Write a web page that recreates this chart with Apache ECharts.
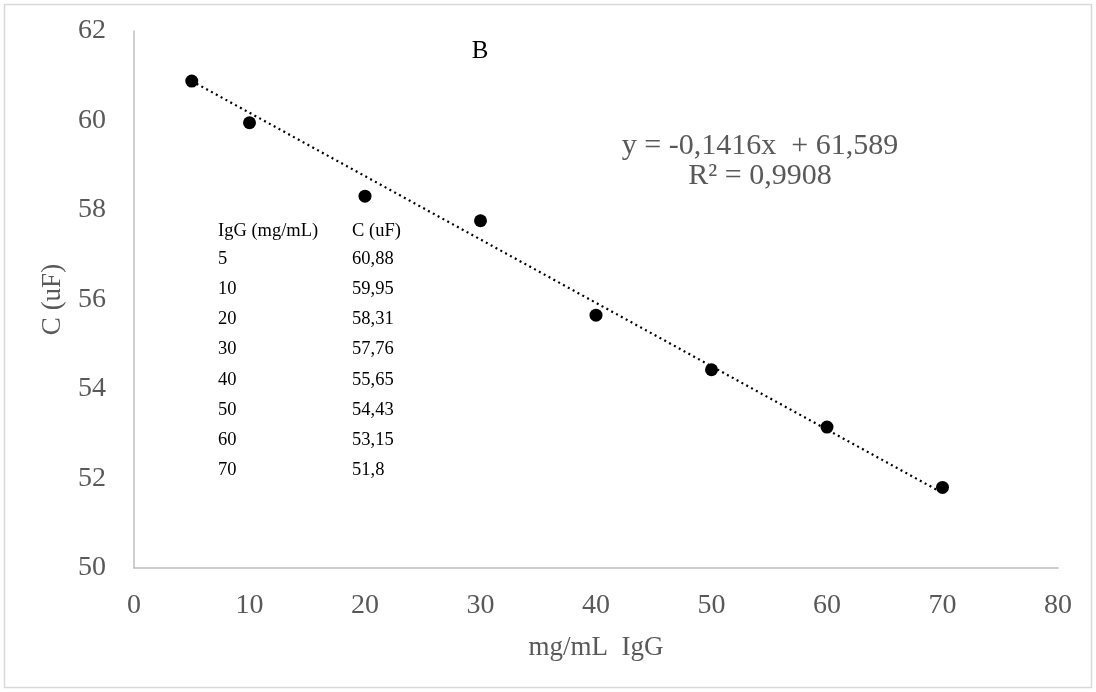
<!DOCTYPE html>
<html>
<head>
<meta charset="utf-8">
<script src="https://cdn.jsdelivr.net/npm/echarts@6/dist/echarts.min.js"></script>
<style>
  html, body { margin: 0; padding: 0; background: #fff; }
  #chart { width: 1096px; height: 692px; }
</style>
</head>
<body>
<div id="chart"></div>
<script>
// concentration (mg/mL) and capacitance (uF)
const igg = [5, 10, 20, 30, 40, 50, 60, 70]
const cap = [60.88, 59.95, 58.31, 57.76, 55.65, 54.43, 53.15, 51.8]
// trend line as printed on the chart
const slope = -0.1416
const intercept = 61.589
const r2 = 0.9908

const serif = '"Liberation Serif", "Times New Roman", serif'
const gray = '#595959'
const comma = v => String(v).replace('.', ',')

const trend = [igg[0], igg[igg.length - 1]].map(x => [x, slope * x + intercept])

// little table inside the plot
const cell = (x, y, text) => ({
  type: 'text', x: x, y: y,
  style: { text: text, font: '18.5px ' + serif, fill: '#000', textVerticalAlign: 'middle' }
})
const tableText = [cell(218, 231, 'IgG (mg/mL)'), cell(352, 231, 'C (uF)')]
igg.forEach((x, i) => {
  tableText.push(cell(218, 259 + i * 30.2, String(x)))
  tableText.push(cell(352, 259 + i * 30.2, comma(cap[i])))
})

const chart = echarts.init(document.getElementById('chart'))
chart.setOption({
  animation: false,
  grid: { left: 134, right: 38, top: 31, bottom: 124 },
  xAxis: {
    type: 'value', min: 0, max: 80, interval: 10,
    name: 'mg/mL  IgG', nameLocation: 'middle', nameGap: 66,
    nameTextStyle: { fontFamily: serif, fontSize: 27, color: gray },
    axisLine: { show: true, lineStyle: { color: '#bfbfbf', width: 1.5 } },
    axisTick: { show: false },
    splitLine: { show: false },
    axisLabel: { fontFamily: serif, fontSize: 28, color: gray, margin: 24 }
  },
  yAxis: {
    type: 'value', min: 50, max: 62, interval: 2,
    name: 'C (uF)', nameLocation: 'middle', nameGap: 68,
    nameTextStyle: { fontFamily: serif, fontSize: 27, color: gray },
    axisLine: { show: true, lineStyle: { color: '#bfbfbf', width: 1.5 } },
    axisTick: { show: false },
    splitLine: { show: false },
    axisLabel: { fontFamily: serif, fontSize: 28, color: gray, margin: 28 }
  },
  series: [
    {
      type: 'line',
      data: trend,
      symbol: 'none',
      lineStyle: { color: '#000', width: 2.2, type: [2, 3.5] },
      z: 1
    },
    {
      type: 'scatter',
      data: igg.map((x, i) => [x, cap[i]]),
      symbol: 'circle',
      symbolSize: 13,
      itemStyle: { color: '#000', opacity: 1 },
      z: 2
    }
  ],
  graphic: [
    { type: 'rect', shape: { x: 4.5, y: 4.5, width: 1087, height: 683 }, style: { fill: 'none', stroke: '#d9d9d9', lineWidth: 1.5 } },
    { type: 'text', x: 480, y: 51, style: { text: 'B', font: '25px ' + serif, fill: '#000', textAlign: 'center', textVerticalAlign: 'middle' } },
    { type: 'text', x: 760, y: 146, style: { text: 'y = ' + comma(slope) + 'x  + ' + comma(intercept), font: '30px ' + serif, fill: gray, textAlign: 'center', textVerticalAlign: 'middle' } },
    { type: 'text', x: 760, y: 176, style: { text: 'R² = ' + comma(r2), font: '30px ' + serif, fill: gray, textAlign: 'center', textVerticalAlign: 'middle' } }
  ].concat(tableText)
})
</script>
</body>
</html>
